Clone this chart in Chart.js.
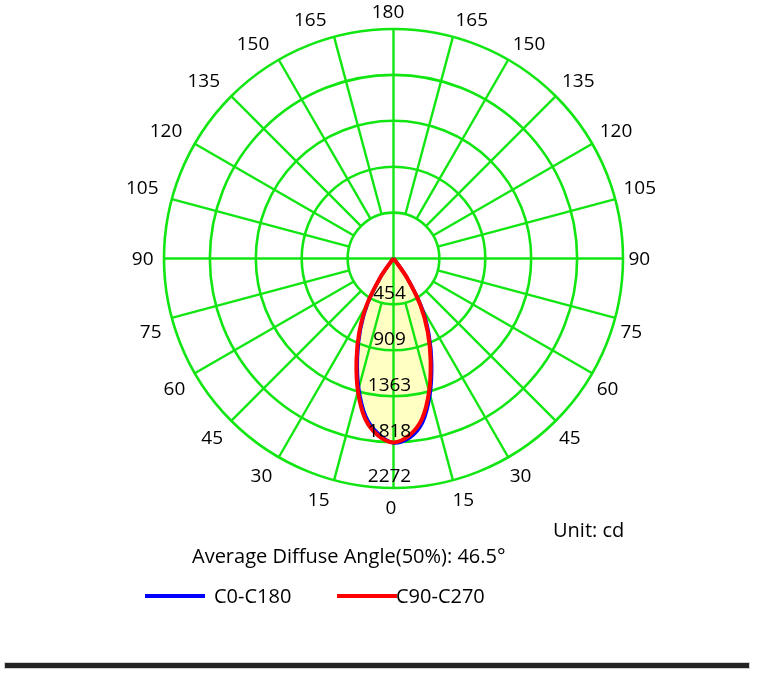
<!DOCTYPE html>
<html>
<head>
<meta charset="utf-8">
<script src="https://cdn.jsdelivr.net/npm/chart.js@4"></script>
<style>
  html, body { margin: 0; padding: 0; background: #fff; }
  .chart-container { position: relative; width: 758px; height: 673px; }
</style>
</head>
<body>
<div class="chart-container"><canvas id="chart"></canvas></div>
<script>
'use strict'

// gamma angles (deg from nadir) and luminous intensity (cd) per C-plane half
const gammaAngles = [0, 5, 10, 15, 20, 25, 30, 35, 40, 45, 50, 55, 60, 65, 70, 75, 80, 85, 90]
const c0Values   = [1826, 1785, 1650, 1395, 1105, 830, 556, 245, 33, 5, 0, 0, 0, 0, 0, 0, 0, 0, 0]
const c180Values = [1826, 1740, 1585, 1330, 1045, 775, 508, 218, 28, 5, 0, 0, 0, 0, 0, 0, 0, 0, 0]
const c90Values  = [1822, 1760, 1616, 1362, 1074, 803, 532, 230, 30, 5, 0, 0, 0, 0, 0, 0, 0, 0, 0]
const c270Values = [1822, 1758, 1612, 1360, 1072, 800, 530, 228, 30, 5, 0, 0, 0, 0, 0, 0, 0, 0, 0]

const ringValues = [454, 909, 1363, 1818, 2272]
const angleLabels = [0, 15, 30, 45, 60, 75, 90, 105, 120, 135, 150, 165, 180]
const seriesNames = ['C0-C180', 'C90-C270']
const unitText = 'Unit: cd'
const captionText = 'Average Diffuse Angle(50%): 46.5°'

const maxValue = ringValues[ringValues.length - 1]
const GRID_COLOR = '#12e612'
const FONT = '19px "Open Sans"'
const CAPTION_FONT = '20px "Open Sans"'

function toPoints(left, right) {
  const pts = []
  for (let i = gammaAngles.length - 1; i >= 0; i--) {
    const a = gammaAngles[i] * Math.PI / 180
    pts.push({ x: -left[i] * Math.sin(a), y: -left[i] * Math.cos(a) })
  }
  for (let i = 1; i < gammaAngles.length; i++) {
    const a = gammaAngles[i] * Math.PI / 180
    pts.push({ x: right[i] * Math.sin(a), y: -right[i] * Math.cos(a) })
  }
  return pts
}

const polarGrid = {
  id: 'polarGrid',

  beforeDatasetsDraw(chart) {
    const { ctx, scales: { x, y } } = chart
    const cx = x.getPixelForValue(0)
    const cy = y.getPixelForValue(0)
    const radius = v => x.getPixelForValue(v) - cx

    ctx.save()

    // yellow area inside the curves
    ctx.fillStyle = '#ffffc4'
    chart.data.datasets.forEach((ds, i) => {
      const meta = chart.getDatasetMeta(i)
      meta.dataset.updateControlPoints(chart.chartArea, meta.axis)
      ctx.beginPath()
      meta.dataset.path(ctx)
      ctx.closePath()
      ctx.fill()
    })

    ctx.strokeStyle = GRID_COLOR
    ctx.lineWidth = 2.6

    ringValues.forEach(v => {
      ctx.beginPath()
      ctx.arc(cx, cy, radius(v), 0, Math.PI * 2)
      ctx.stroke()
    })

    const inner = radius(ringValues[0])
    const outer = radius(maxValue)
    ctx.lineWidth = 2.4
    for (let a = 0; a < 360; a += 15) {
      const t = a * Math.PI / 180
      const start = a % 90 === 0 ? 0 : inner
      ctx.beginPath()
      ctx.moveTo(cx + start * Math.sin(t), cy + start * Math.cos(t))
      ctx.lineTo(cx + outer * Math.sin(t), cy + outer * Math.cos(t))
      ctx.stroke()
    }

    ctx.restore()
  },

  afterDatasetsDraw(chart) {
    const { ctx, scales: { x, y } } = chart
    const cx = x.getPixelForValue(0)
    const cy = y.getPixelForValue(0)
    const radius = v => x.getPixelForValue(v) - cx

    ctx.save()
    ctx.font = FONT
    ctx.fillStyle = '#000'
    ctx.textAlign = 'center'
    ctx.textBaseline = 'middle'

    // ring values along the nadir axis
    ringValues.forEach(v => {
      ctx.fillText(String(v), cx - 4, cy + radius(v) - 11)
    })

    // gamma labels round the outside
    const ra = radius(maxValue) + 8
    ;[-1, 1].forEach(side => {
      angleLabels.forEach(g => {
        if (side === 1 && (g === 0 || g === 180))
          return
        const t = g * Math.PI / 180
        const dx = side * Math.sin(t)
        const dy = Math.cos(t)
        const text = String(g)
        const hw = ctx.measureText(text).width / 2
        let px = cx + ra * dx - 2.5
        let py = cy + ra * dy
        if (Math.abs(dx) > 0.01) px += side * hw
        if (dy < -0.01) {
          py -= 8.6
          px += side * 3
        } else if (dy > 0.01) py += 12.5
        else py += 1.5
        ctx.fillText(text, px, py)
      })
    })

    ctx.font = CAPTION_FONT
    ctx.textAlign = 'left'
    ctx.fillText(unitText, 553, 531)
    ctx.fillText(captionText, 192, 557)

    // legend
    const legend = [
      { name: seriesNames[0], color: '#0000ff', x: 145 },
      { name: seriesNames[1], color: '#ff0000', x: 337 }
    ]
    legend.forEach((item, i) => {
      ctx.strokeStyle = item.color
      ctx.lineWidth = 4
      ctx.beginPath()
      ctx.moveTo(item.x, 596)
      ctx.lineTo(item.x + 60, 596)
      ctx.stroke()
      ctx.fillText(item.name, i === 0 ? 214 : 396, 597)
    })

    // bottom rule
    ctx.fillStyle = '#222'
    ctx.fillRect(5, 663, 744, 5)
    ctx.strokeStyle = '#d0d0d0'
    ctx.lineWidth = 1
    ctx.strokeRect(4.5, 662.5, 745, 6)

    ctx.restore()
  }
}

new Chart(document.getElementById('chart').getContext('2d'), {
  type: 'scatter',
  data: {
    datasets: [
      {
        label: seriesNames[1],
        data: toPoints(c270Values, c90Values),
        showLine: true,
        borderColor: '#ff0000',
        borderWidth: 4,
        tension: 0.3,
        pointRadius: 0,
        fill: false,
        order: 0
      },
      {
        label: seriesNames[0],
        data: toPoints(c180Values, c0Values),
        showLine: true,
        borderColor: '#0000ff',
        borderWidth: 3.5,
        tension: 0.3,
        pointRadius: 0,
        fill: false,
        order: 1
      }
    ]
  },
  options: {
    responsive: true,
    maintainAspectRatio: false,
    animation: false,
    layout: { padding: { left: 164, right: 135, top: 29, bottom: 185 } },
    scales: {
      x: { type: 'linear', min: -maxValue, max: maxValue, display: false },
      y: { type: 'linear', min: -maxValue, max: maxValue, display: false }
    },
    plugins: {
      legend: { display: false },
      tooltip: { enabled: false }
    }
  },
  plugins: [polarGrid]
})
</script>
</body>
</html>
